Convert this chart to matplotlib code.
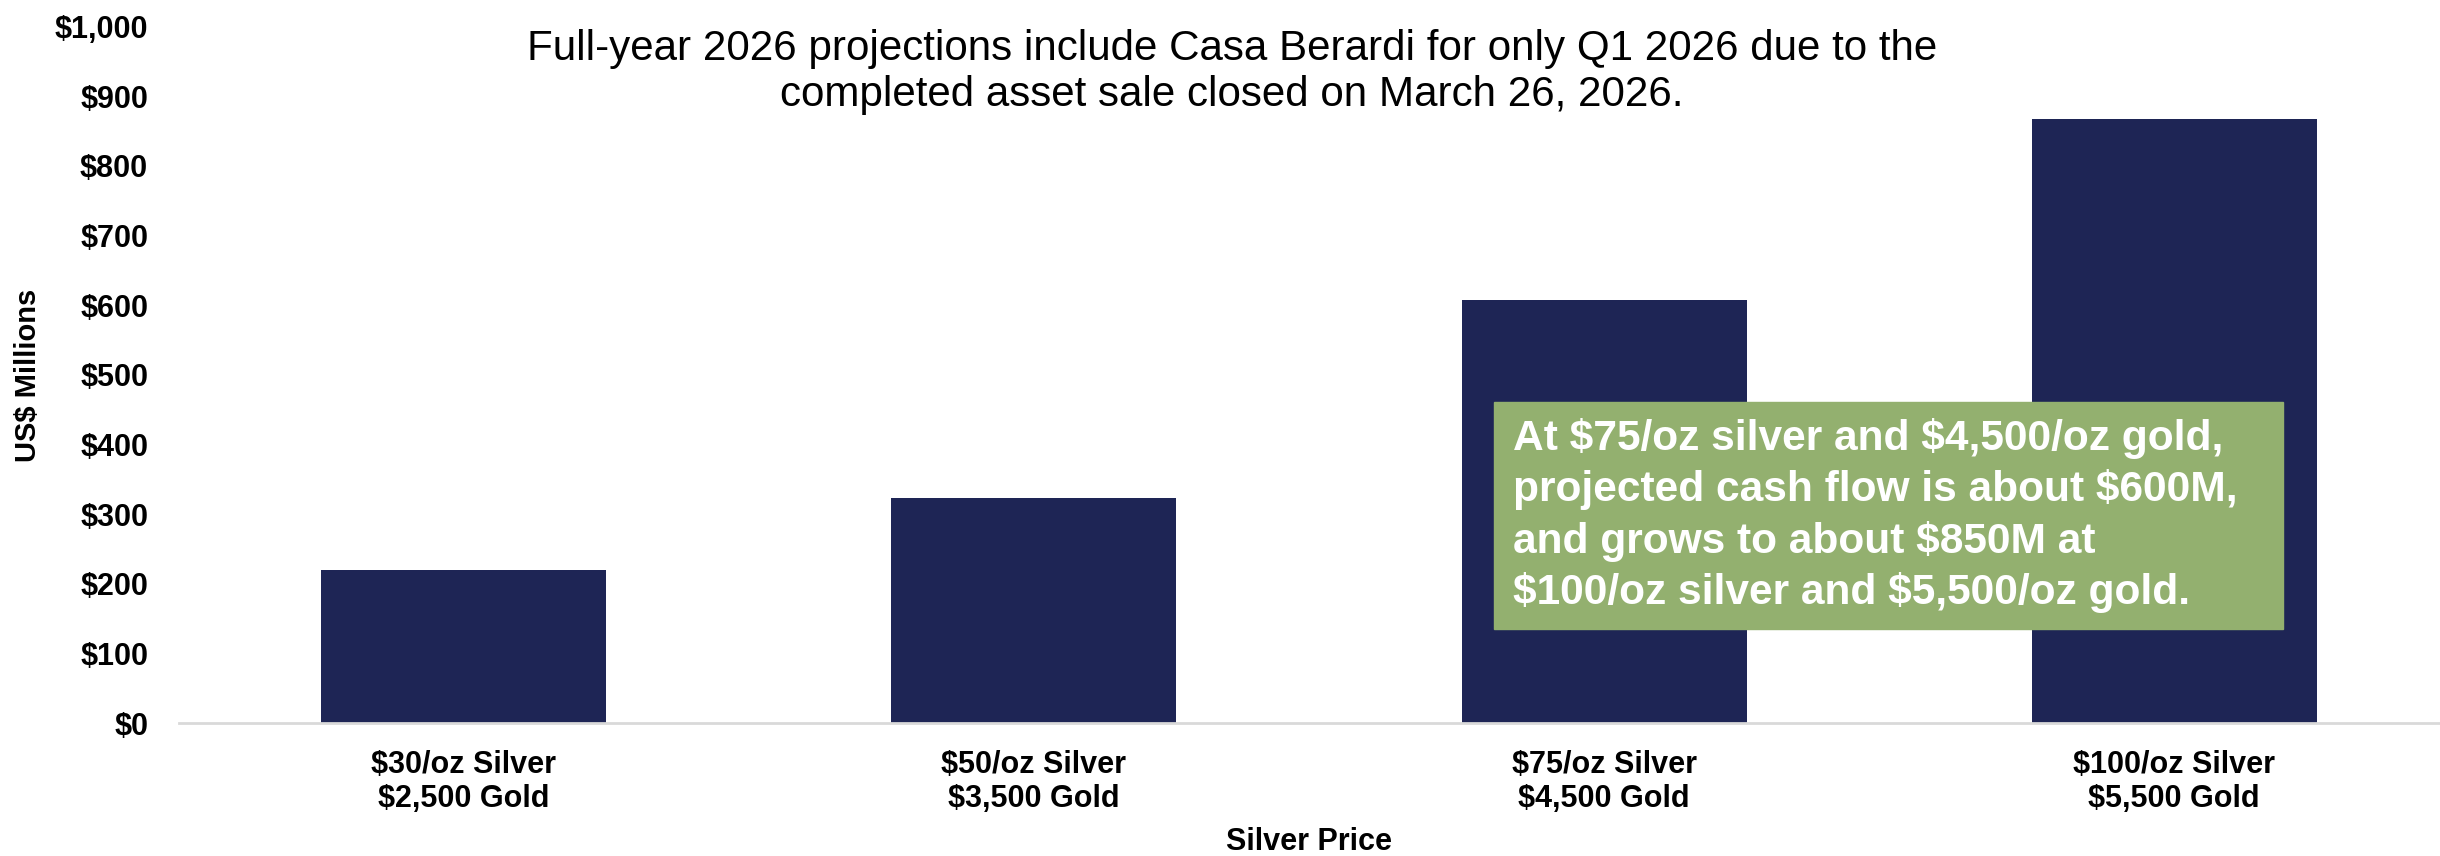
import matplotlib
matplotlib.use("Agg")
import matplotlib.pyplot as plt
from matplotlib.ticker import FuncFormatter

# scenario data (US$ millions)
silver_labels = ["$30/oz Silver", "$50/oz Silver", "$75/oz Silver", "$100/oz Silver"]
gold_labels = ["$2,500 Gold", "$3,500 Gold", "$4,500 Gold", "$5,500 Gold"]
cash_flow = [220, 323, 607, 868]
y_ticks = list(range(0, 1001, 100))

title = ("Full-year 2026 projections include Casa Berardi for only Q1 2026 due to the\n"
         "completed asset sale closed on March 26, 2026.")
note = ("At \\$75/oz silver and \\$4,500/oz gold,\n"
        "projected cash flow is about \\$600M,\n"
        "and grows to about \\$850M at\n"
        "\\$100/oz silver and \\$5,500/oz gold.")

plt.rcParams["font.family"] = ["Liberation Sans", "DejaVu Sans"]

fig = plt.figure(figsize=(24.4, 8.56), dpi=100)
ax = fig.add_axes([0.0732, 0.155, 1.0 - 0.0732, 0.969 - 0.155])

x = range(len(cash_flow))
ax.bar(x, cash_flow, width=0.5, color="#1E2555", zorder=2)

ax.set_xlim(-0.5, 3.466)
ax.set_ylim(0, 1000)
ax.set_yticks(y_ticks)
ax.yaxis.set_major_formatter(FuncFormatter(lambda v, p: f"${v:,.0f}"))
ax.set_xticks(list(x))
ax.set_xticklabels([f"{s}\n{g}" for s, g in zip(silver_labels, gold_labels)],
                   fontsize=22, fontweight="bold", linespacing=1.2)
ax.tick_params(axis="y", labelsize=22, length=0, pad=22)
for lbl in ax.get_yticklabels():
    lbl.set_fontweight("bold")
ax.tick_params(axis="x", length=0, pad=19)

for side in ["top", "right", "left"]:
    ax.spines[side].set_visible(False)
ax.spines["bottom"].set_color("#D9D9D9")
ax.spines["bottom"].set_linewidth(2)

fig.text(1309 / 2440, 1 - 842 / 856, "Silver Price", ha="center", va="center",
         fontsize=22, fontweight="bold")
fig.text(0.0115, 0.562, "US$ Millions", rotation=90, ha="center", va="center",
         fontsize=21, fontweight="bold")

fig.text(0.505, 0.966, title, ha="center", va="top", fontsize=30.3, linespacing=1.2)

# green note box
box_x0, box_x1 = 1494 / 2440, 2283 / 2440
box_y0, box_y1 = 1 - 629 / 856, 1 - 402 / 856
fig.patches.append(plt.Rectangle((box_x0, box_y0), box_x1 - box_x0, box_y1 - box_y0,
                                 transform=fig.transFigure, color="#93B06F", zorder=5))
fig.text(1513 / 2440, (box_y0 + box_y1) / 2, note, ha="left", va="center",
         fontsize=30.6, fontweight="bold", color="white",
         linespacing=1.32, zorder=6)

fig.savefig("out.png", dpi=100)
